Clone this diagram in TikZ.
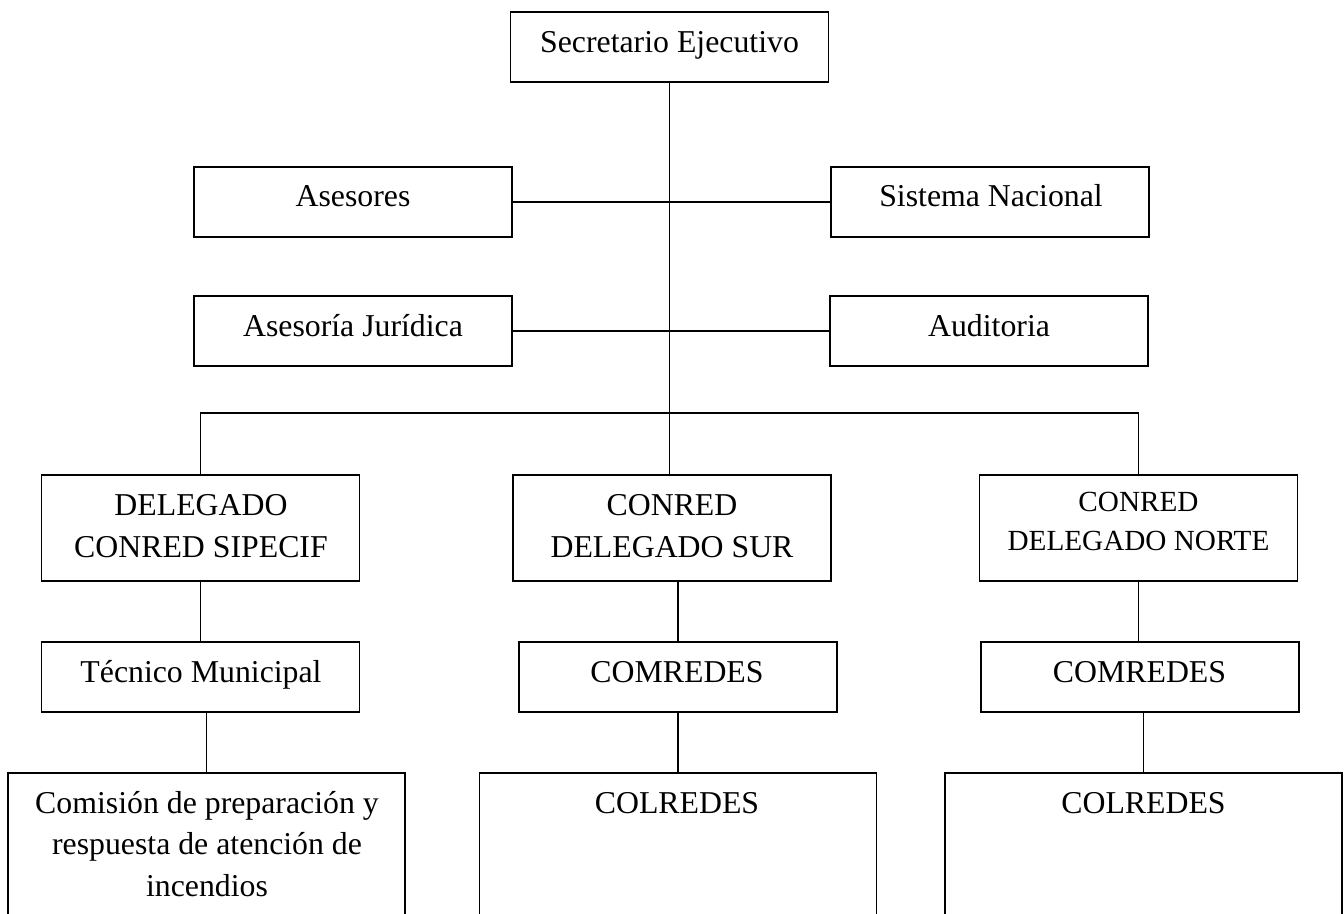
\documentclass[tikz,border=0pt]{standalone}
\usepackage{fontspec}
\setmainfont{Liberation Serif}
\begin{document}
\begin{tikzpicture}[x=0.75pt,y=-0.75pt,
  box/.style={draw, line width=1.4pt, inner sep=0pt, minimum width=238.5pt, minimum height=52.5pt},
  tall/.style={minimum height=80pt},
  big/.style={minimum width=297.75pt, minimum height=150pt},
  conn/.style={line width=1.1pt},
  txt/.style={inner sep=0pt, align=center, font=\fontsize{23.85pt}{31.1pt}\selectfont},
  small/.style={font=\fontsize{21.9pt}{29.25pt}\selectfont}]
\useasboundingbox (0,0) rectangle (1344,913);
% boxes
\node[box] (sec) at (669.5,47) {};
\node[box] (ases) at (353,202) {};
\node[box] (sis) at (990,202) {};
\node[box] (jur) at (353,331) {};
\node[box] (aud) at (989,331) {};
\node[box,tall] (del) at (200.5,528) {};
\node[box,tall] (sur) at (672,528) {};
\node[box,tall] (nor) at (1138.5,528) {};
\node[box] (tec) at (200.5,677) {};
\node[box] (com1) at (678,677) {};
\node[box] (com2) at (1140,677) {};
\node[box,big] (comi) at (206.5,873) {};
\node[box,big] (col1) at (678,873) {};
\node[box,big] (col2) at (1143.5,873) {};
% texts (multi-line nodes: base = last line)
\node[txt,anchor=base] (secT) at (669.5,53) {Secretario Ejecutivo};
\node[txt,anchor=base] (asesT) at (353,206) {Asesores};
\node[txt,anchor=base] (sisT) at (991,206) {Sistema Nacional};
\node[txt,anchor=base] (jurT) at (353,336) {Asesoría Jurídica};
\node[txt,anchor=base] (audT) at (989,336) {Auditoria};
\node[txt,anchor=base] (delT) at (201,557) {DELEGADO\\CONRED SIPECIF};
\node[txt,anchor=base] (surT) at (672,557) {CONRED\\DELEGADO SUR};
\node[txt,small,anchor=base] (norT) at (1138.5,550.7) {CONRED\\DELEGADO NORTE};
\node[txt,anchor=base] (tecT) at (201,682) {Técnico Municipal};
\node[txt,anchor=base] (com1T) at (677,682) {COMREDES};
\node[txt,anchor=base] (com2T) at (1139.5,682) {COMREDES};
\node[txt,anchor=base] (comiT) at (207,896) {Comisión de preparación y\\respuesta de atención de\\incendios};
\node[txt,anchor=base] (col1T) at (677,813.5) {COLREDES};
\node[txt,anchor=base] (col2T) at (1143.5,813.5) {COLREDES};
% connectors
\coordinate (bar) at (669.5,413);
\draw[conn] (sec.south) -- (sec.south |- sur.north);
\draw[conn] (ases) -- (sis);
\draw[conn] (jur) -- (aud);
\draw[conn] (del.north) |- (bar) -| (nor.north);
\draw[conn] (del) -- (tec);
\draw[conn] (com1.north) -- (com1.north |- sur.south);
\draw[conn] (nor.south) -- (nor.south |- com2.north);
\draw[conn] (comi.north) -- (comi.north |- tec.south);
\draw[conn] (com1) -- (col1);
\draw[conn] (col2.north) -- (col2.north |- com2.south);
\end{tikzpicture}
\end{document}
